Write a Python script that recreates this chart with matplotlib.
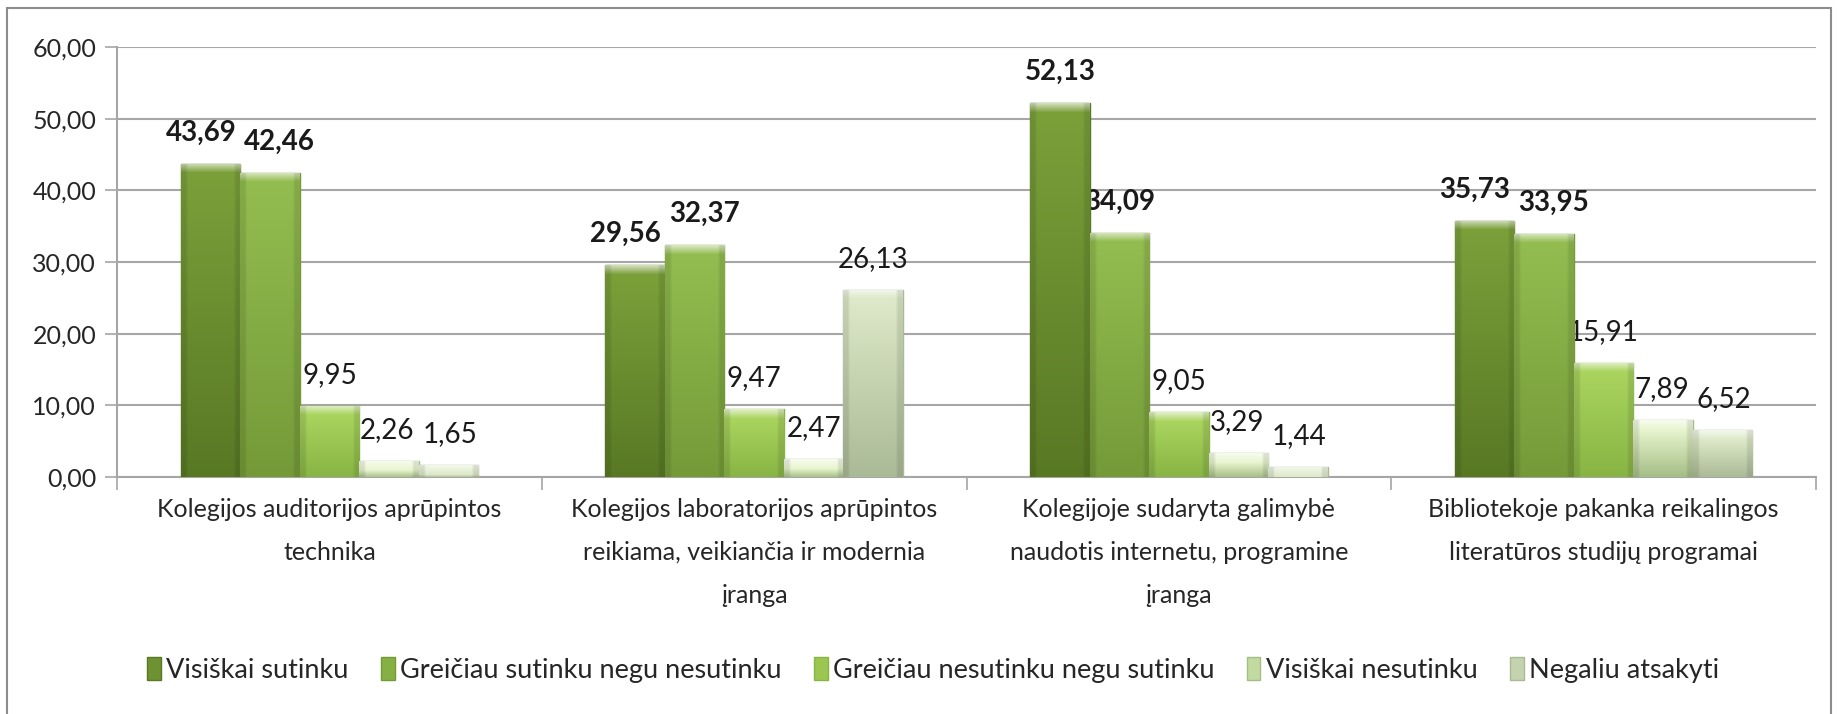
import numpy as np
import matplotlib
matplotlib.use("Agg")
import matplotlib.pyplot as plt
from matplotlib.colors import to_rgb
from matplotlib.patches import Rectangle
from matplotlib.transforms import offset_copy

categories = [
    "Kolegijos auditorijos aprūpintos\ntechnika",
    "Kolegijos laboratorijos aprūpintos\nreikiama, veikiančia ir modernia\nįranga",
    "Kolegijoje sudaryta galimybė\nnaudotis internetu, programine\nįranga",
    "Bibliotekoje pakanka reikalingos\nliteratūros studijų programai",
]
series_names = [
    "Visiškai sutinku",
    "Greičiau sutinku negu nesutinku",
    "Greičiau nesutinku negu sutinku",
    "Visiškai nesutinku",
    "Negaliu atsakyti",
]
visiskai_sutinku = [43.69, 29.56, 52.13, 35.73]
greiciau_sutinku = [42.46, 32.37, 34.09, 33.95]
greiciau_nesutinku = [9.95, 9.47, 9.05, 15.91]
visiskai_nesutinku = [2.26, 2.47, 3.29, 7.89]
negaliu_atsakyti = [1.65, 26.13, 1.44, 6.52]
series_values = [visiskai_sutinku, greiciau_sutinku, greiciau_nesutinku,
                 visiskai_nesutinku, negaliu_atsakyti]
bold_label = [True, True, False, False, False]
yticks = [0, 10, 20, 30, 40, 50, 60]

colors = ["#6e9232", "#86b044", "#9bc651", "#c2d9a0", "#c4d3ad"]
tops = ["#7ba03a", "#93bd50", "#a9d45e", "#e8f5cf", "#dde9c8"]
bottoms = ["#587824", "#749a38", "#88b444", "#a4bd84", "#aab996"]

plt.rcParams['font.family'] = ['Lato', 'DejaVu Sans']
W, H = 1837, 714
fig = plt.figure(figsize=(W / 100, H / 100), dpi=100)
fig.patch.set_facecolor("white")
ax = fig.add_axes([117 / W, 1 - 477 / H, (1816 - 117) / W, (477 - 47) / H])

fig.patches.append(Rectangle((7 / W, -0.05), (1831 - 7) / W, 1.05 - 8 / H,
                             transform=fig.transFigure, fill=False,
                             edgecolor="#8c8c8c", linewidth=1.5, zorder=0))

ymax = 60
ax.set_ylim(0, ymax)
ax.set_xlim(-0.5, len(categories) - 0.5)
n = len(series_values)
group_w = 0.70
bw = group_w / n
x = np.arange(len(categories))
ax_px_h = 430.0

def mix(c1, c2, t):
    a, b = np.array(to_rgb(c1)), np.array(to_rgb(c2))
    return a * (1 - t) + b * t

labels_by_cat = [[] for _ in categories]
for i, vals in enumerate(series_values):
    xs = x + (i - (n - 1) / 2) * bw
    bars = ax.bar(xs, vals, width=bw, color=colors[i], edgecolor=bottoms[i],
                  linewidth=1.0, label=series_names[i], zorder=3)
    for k, (b, v) in enumerate(zip(bars, vals)):
        hpx = max(int(round(v / ymax * ax_px_h)), 2)
        rows = []
        for r in range(hpx):
            if r < 9:
                c = mix("#ffffff", tops[i], 0.35 + 0.65 * r / 9)
            else:
                t = (r - 9) / max(hpx - 9, 1)
                c = mix(tops[i], bottoms[i], t)
            rows.append(c)
        col = np.array(rows)[:, None, :]
        shade = np.ones((1, 20, 1))
        shade[0, :2, 0] = 0.9
        shade[0, -2:, 0] = 0.9
        img = np.clip(col * shade, 0, 1)
        im = ax.imshow(img, extent=(b.get_x(), b.get_x() + bw, 0, v),
                       aspect='auto', origin='upper', zorder=3.5,
                       interpolation='bilinear')
        im.set_clip_path(b)
        t = ax.annotate(f"{v:.2f}".replace(".", ","), (b.get_x() + bw / 2, v),
                        xytext=(0, 13), textcoords="offset points",
                        ha="center", va="bottom", fontsize=20,
                        fontweight="bold" if bold_label[i] else "normal",
                        color="#1a1a1a", zorder=2)
        labels_by_cat[k].append(t)

ax.set_xlim(-0.5, len(categories) - 0.5)
ax.set_ylim(0, ymax)
ax.set_yticks(yticks)
ax.set_yticklabels([f"{t:.2f}".replace(".", ",") for t in yticks],
                   fontsize=18, color="#262626")
ax.yaxis.grid(True, color="#a6a6a6", linewidth=1.5, zorder=0)
ax.set_axisbelow(True)
ax.set_xticks(np.arange(-0.5, len(categories) + 0.5, 1.0))
ax.set_xticklabels([])
ax.set_xticks(x, minor=True)
ax.set_xticklabels(categories, minor=True, fontsize=18, color="#262626",
                   linespacing=2.05, va="top")
ax.tick_params(axis='x', which='minor', length=0, pad=15)
ax.tick_params(axis='x', which='major', length=9, width=1.2, color="#a6a6a6",
               direction='out')
ax.tick_params(axis='y', length=9, width=1.2, color="#a6a6a6", pad=6)
for s in ["top", "right"]:
    ax.spines[s].set_visible(False)
for s in ["left", "bottom"]:
    ax.spines[s].set_color("#a6a6a6")
    ax.spines[s].set_linewidth(1.5)

# nudge neighbouring value labels apart when they collide
fig.canvas.draw()
renderer = fig.canvas.get_renderer()
for group in labels_by_cat:
    for a, b in zip(group[:-1], group[1:]):
        ba = a.get_window_extent(renderer)
        bb = b.get_window_extent(renderer)
        ov_x = ba.x1 - bb.x0
        ov_y = min(ba.y1, bb.y1) - max(ba.y0, bb.y0)
        if ov_x > -6 and ov_y > 0:
            push = (ov_x + 8) / 2 * 72 / fig.dpi
            xa, ya = a.xyann
            xb, yb = b.xyann
            a.xyann = (xa - push, ya)
            b.xyann = (xb + push, yb)

handles, labels = ax.get_legend_handles_labels()
fig.legend(handles, labels, loc="center", bbox_to_anchor=(0.508, 1 - 670 / H),
           ncol=5, frameon=False, fontsize=19.5, handlelength=0.5,
           handleheight=0.9, handletextpad=0.2, columnspacing=1.2,
           labelcolor="#262626")

fig.savefig("out.png", dpi=100, facecolor="white")
